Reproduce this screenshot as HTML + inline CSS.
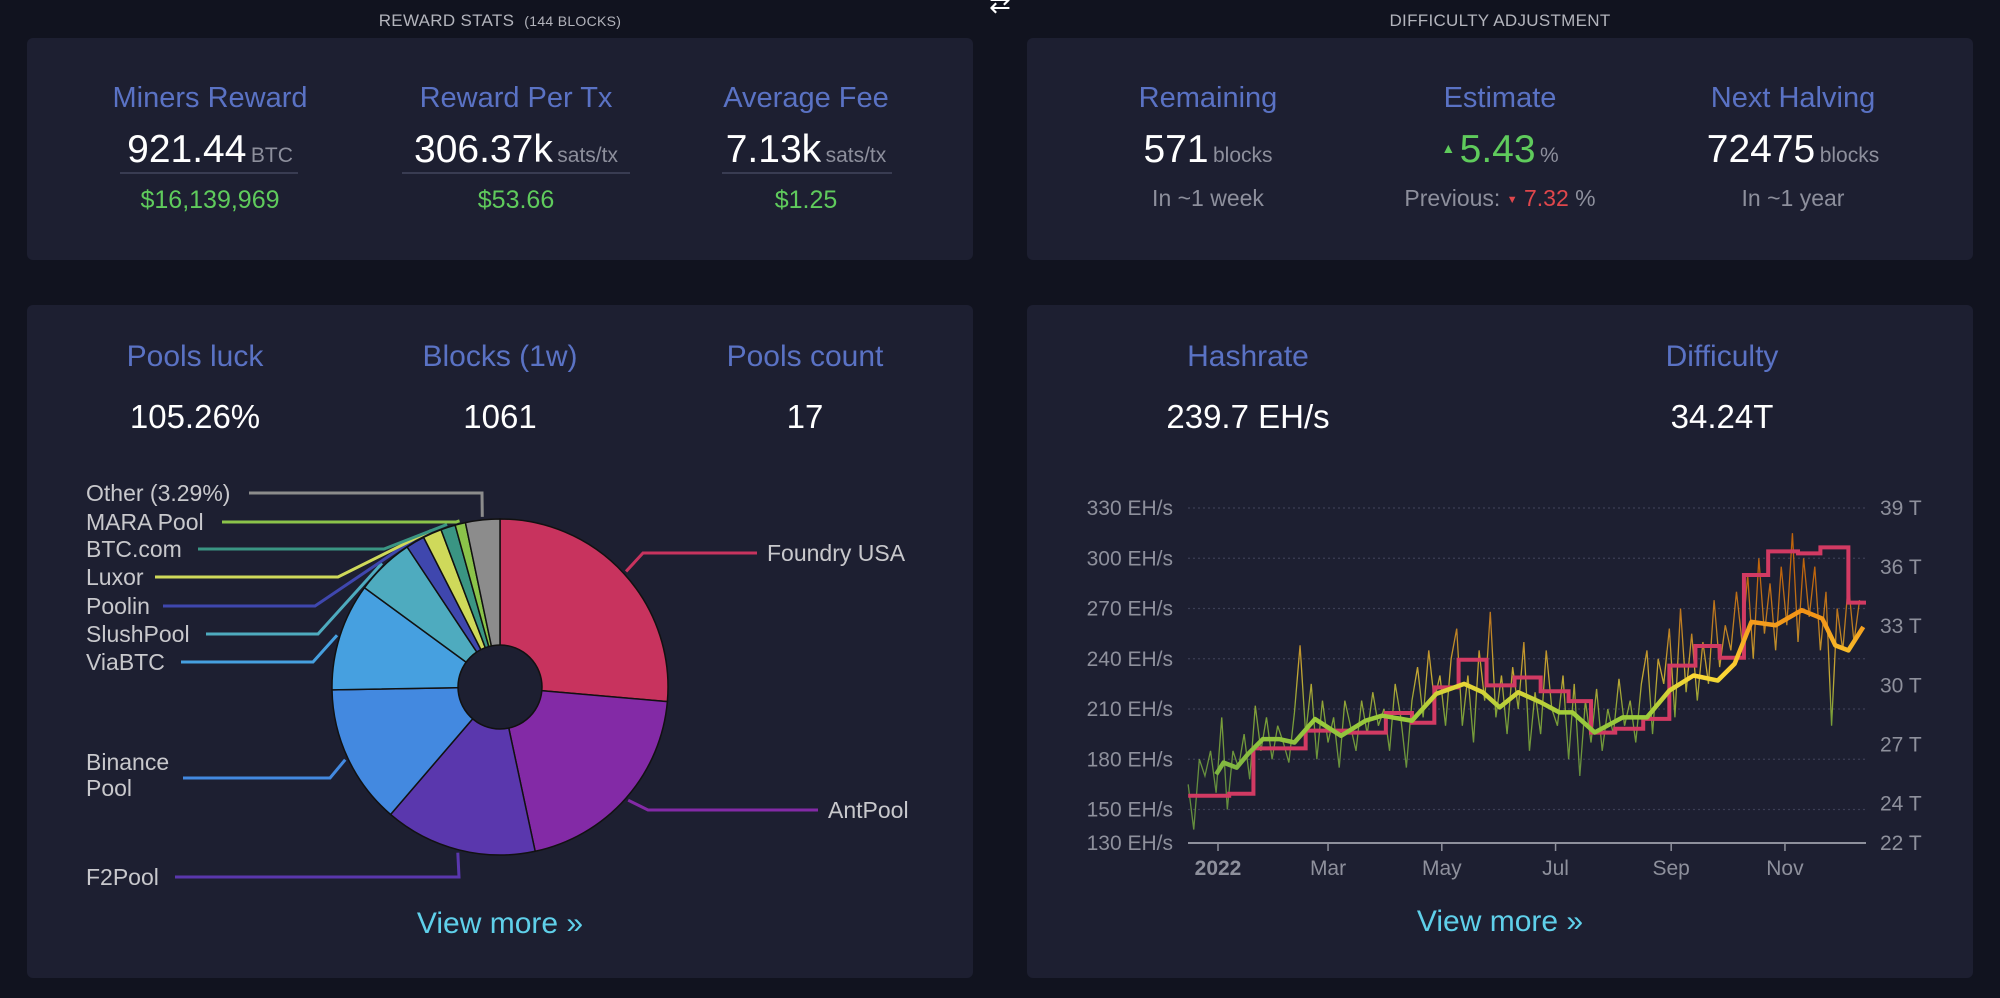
<!DOCTYPE html>
<html><head><meta charset="utf-8">
<style>
html,body{margin:0;padding:0;}
body{width:2000px;height:998px;background:#11131f;position:relative;overflow:hidden;font-family:"Liberation Sans",sans-serif;}
.card{position:absolute;background:#1d1f31;border-radius:6px;}
.t{position:absolute;white-space:nowrap;transform:translateX(-50%);text-align:center;}
.hdr{font-size:17px;color:#b3b4bc;letter-spacing:0.3px;}
.lbl{font-size:29px;color:#5a72c4;}
.lbl2{font-size:30px;color:#5a72c4;}
.val{font-size:39px;color:#fff;}
.unit{font-size:21px;color:#8d8f9c;}
.usd{font-size:25px;color:#5fcb5c;}
.sub{font-size:23px;color:#8d8f9c;}
.big{font-size:33px;color:#fff;}
.line{position:absolute;height:2px;background:#393c52;}
.vm{font-size:30px;color:#5fd0ea;}
</style></head><body>
<div class="t hdr" style="left:500px;top:11px">REWARD STATS &nbsp;<span style="font-size:14px">(144 BLOCKS)</span></div>
<div class="t hdr" style="left:1500px;top:11px">DIFFICULTY ADJUSTMENT</div>
<div class="t" style="left:1000px;top:-12px;color:#fff;font-size:26px">⇄</div>

<div class="card" style="left:27px;top:38px;width:946px;height:222px"></div>
<div class="t lbl" style="left:210px;top:82px">Miners Reward</div>
<div class="t" style="left:210px;top:128px"><span class="val">921.44</span> <span class="unit">BTC</span></div>
<div class="line" style="left:120px;top:172px;width:178px"></div>
<div class="t usd" style="left:210px;top:186px">$16,139,969</div>
<div class="t lbl" style="left:516px;top:82px">Reward Per Tx</div>
<div class="t" style="left:516px;top:128px"><span class="val">306.37k</span> <span class="unit">sats/tx</span></div>
<div class="line" style="left:402px;top:172px;width:228px"></div>
<div class="t usd" style="left:516px;top:186px">$53.66</div>
<div class="t lbl" style="left:806px;top:82px">Average Fee</div>
<div class="t" style="left:806px;top:128px"><span class="val">7.13k</span> <span class="unit">sats/tx</span></div>
<div class="line" style="left:722px;top:172px;width:170px"></div>
<div class="t usd" style="left:806px;top:186px">$1.25</div>

<div class="card" style="left:1027px;top:38px;width:946px;height:222px"></div>
<div class="t lbl" style="left:1208px;top:82px">Remaining</div>
<div class="t" style="left:1208px;top:128px"><span class="val">571</span> <span class="unit">blocks</span></div>
<div class="t sub" style="left:1208px;top:185px">In ~1 week</div>
<div class="t lbl" style="left:1500px;top:82px">Estimate</div>
<div class="t" style="left:1500px;top:128px"><span style="color:#5fcb5c;font-size:14px;vertical-align:9px">▲</span> <span class="val" style="color:#5fcb5c">5.43</span> <span class="unit">%</span></div>
<div class="t sub" style="left:1500px;top:185px">Previous: <span style="color:#e0474c;font-size:11px;vertical-align:3px">▼</span> <span style="color:#e0474c">7.32</span> %</div>
<div class="t lbl" style="left:1793px;top:82px">Next Halving</div>
<div class="t" style="left:1793px;top:128px"><span class="val">72475</span> <span class="unit">blocks</span></div>
<div class="t sub" style="left:1793px;top:185px">In ~1 year</div>

<div class="card" style="left:27px;top:305px;width:946px;height:673px"></div>
<div class="t lbl2" style="left:195px;top:340px">Pools luck</div>
<div class="t big" style="left:195px;top:398px">105.26%</div>
<div class="t lbl2" style="left:500px;top:340px">Blocks (1w)</div>
<div class="t big" style="left:500px;top:398px">1061</div>
<div class="t lbl2" style="left:805px;top:340px">Pools count</div>
<div class="t big" style="left:805px;top:398px">17</div>
<div class="t vm" style="left:500px;top:907px">View more »</div>

<div class="card" style="left:1027px;top:305px;width:946px;height:673px"></div>
<div class="t lbl2" style="left:1248px;top:340px">Hashrate</div>
<div class="t big" style="left:1248px;top:398px">239.7 EH/s</div>
<div class="t lbl2" style="left:1722px;top:340px">Difficulty</div>
<div class="t big" style="left:1722px;top:398px">34.24T</div>
<div class="t vm" style="left:1500px;top:905px">View more »</div>

<svg id="pie" width="2000" height="998" style="position:absolute;left:0;top:0"></svg>
<svg id="hr" width="2000" height="998" style="position:absolute;left:0;top:0"></svg>

<script>
// ---------- Pie data ----------
const poolNames = ["Foundry USA","AntPool","F2Pool","Binance Pool","ViaBTC","SlushPool","Poolin","Luxor","BTC.com","MARA Pool","Other (3.29%)"];
const poolShares = [26.3,20.2,14.6,13.4,10.3,5.6,1.8,1.8,1.4,1.0,3.29];
const poolColors = ["#c8335e","#832aa6","#5a37ad","#4389e0","#46a0e0","#4eabbf","#3f47ae","#cfd95a","#3a9583","#8bc34a","#8c8c8c"];

const NS="http://www.w3.org/2000/svg";
function mk(parent,tag,attrs){const e=document.createElementNS(NS,tag);for(const k in attrs)e.setAttribute(k,attrs[k]);parent.appendChild(e);return e;}
const pie=document.getElementById('pie');
const cx=500,cy=687,R=168,r0=42;
const total=poolShares.reduce((a,b)=>a+b,0);
function pt(ang,rad){return [cx+rad*Math.sin(ang),cy-rad*Math.cos(ang)];}
let a0=0;
const mids=[];
poolShares.forEach((v,i)=>{
  const a1=a0+v/total*2*Math.PI;
  const [x0,y0]=pt(a0,R),[x1,y1]=pt(a1,R);
  const large=(a1-a0)>Math.PI?1:0;
  const p=mk(pie,'path',{d:`M${cx},${cy} L${x0},${y0} A${R},${R} 0 ${large} 1 ${x1},${y1} Z`,fill:poolColors[i],stroke:'#111',"stroke-width":1.5});
  
  
  mids.push((a0+a1)/2);
  a0=a1;
});
const hole=mk(pie,'circle',{cx:cx,cy:cy,r:r0,fill:'#1d1f31',stroke:'#111',"stroke-width":1.5});


// label layout: [labelX, labelY, lineStartX, bendX, anchor]
const labelPos=[[767,553,757,643,'start'],[828,810,818,648,'start'],[86,877,175,459,'end'],[86,778,183,330,'end'],[86,662,181,313,'end'],[86,634,206,318,'end'],[86,606,163,315,'end'],[86,577,155,338,'end'],[86,549,198,384,'end'],[86,522,222,456,'end'],[86,493,249,482,'end']];
poolNames.forEach((n,i)=>{
  const [lx,ly,sx,bx,anc]=labelPos[i];
  const [ex,ey]=pt(mids[i],R+3);
  const l=mk(pie,'polyline',{points:`${sx},${ly} ${bx},${ly} ${ex},${ey}`,fill:'none',stroke:poolColors[i],"stroke-width":3});
  
  
  if(n==="Binance Pool"){
    const t=mk(pie,'text',{x:lx,y:ly-8,fill:'#c8c8cc',"font-size":23,"font-family":"Liberation Sans, sans-serif"});
    t.textContent="Binance";
    const t2=mk(pie,'text',{x:lx,y:ly+18,fill:'#c8c8cc',"font-size":23,"font-family":"Liberation Sans, sans-serif"});
    t2.textContent="Pool";
    
    
    
    
  } else {
    const t=mk(pie,'text',{x:lx,y:ly+8,fill:'#c8c8cc',"font-size":23,"font-family":"Liberation Sans, sans-serif"});
    t.textContent=n;
    
    
  }
});

// ---------- Hashrate chart data ----------
const leftTicks=[130,150,180,210,240,270,300,330];
const rightTicks=[22,24,27,30,33,36,39];
const monthLabels=["2022","Mar","May","Jul","Sep","Nov"];
const monthDays=[0,59,120,181,243,304];
// each difficulty value starts at the matching day and lasts until the next one
const diffDays=[-16,6,19,47,70,90,104,116,129,144,159,173,188,200,213,228,242,256,269,282,295,311,323,338];
const diffVals=[24.4,24.5,26.8,27.7,27.6,28.6,28.1,29.9,31.3,30.0,30.4,29.7,29.2,27.6,27.8,28.3,31.0,32.0,31.4,35.6,36.8,36.7,37.0,34.2];
const maDays=[-1,3,10,16,24,33,41,52,66,79,88,104,117,132,142,151,161,173,183,190,202,217,230,242,255,268,277,286,299,313,324,331,338,346];
const maVals=[171,178,175,183,192,192,190,204,194,203,206,203,219,225,220,211,220,214,208,208,196,205,205,221,230,227,237,262,260,269,264,248,245,259];
const rawStart=-16, rawStep=3;
const rawVals=[165,138,180,170,185,160,205,150,185,175,195,168,212,185,205,180,200,190,178,208,248,195,225,180,215,190,205,175,215,200,185,215,195,220,200,210,185,225,205,175,215,235,205,245,215,230,200,240,258,200,230,190,245,215,268,205,230,195,235,210,250,185,220,195,245,210,200,230,180,225,170,215,190,222,185,210,195,228,200,215,190,225,245,195,240,225,258,205,270,220,255,215,250,225,275,235,260,245,280,250,290,240,300,255,285,245,295,260,315,250,300,265,295,245,280,200,270,245,285,250,275];

const hr=document.getElementById('hr');
const X0=1188,X1=1866;
const xDay=d=>1218+d*1.865;
const yL=v=>843-(v-130)*(335/200);
const yR=t=>843-(t-22)*(335/17);
const defs=mk(hr,'defs',{});
const g=mk(defs,'linearGradient',{id:'hg',gradientUnits:'userSpaceOnUse',x1:0,x2:0,y1:yL(170),y2:yL(290)});
[[0,'#7cb342'],[0.3,'#9ccc3b'],[0.5,'#fdd835'],[0.75,'#f39c1d'],[1,'#f57c00']].forEach(([o,c])=>mk(g,'stop',{offset:o,"stop-color":c}));
leftTicks.forEach(v=>{
  if(v!==130){const gl=mk(hr,'line',{x1:X0,x2:X1,y1:yL(v),y2:yL(v),stroke:'#3c3f55',"stroke-width":1.2,"stroke-dasharray":"2,3"});
  
  }
  const t=mk(hr,'text',{x:1173,y:yL(v)+7,fill:'#8e909c',"font-size":21,"text-anchor":'end',"font-family":"Liberation Sans, sans-serif"});
  t.textContent=v+" EH/s";
  
  
});
rightTicks.forEach(v=>{
  const t=mk(hr,'text',{x:1880,y:yR(v)+7,fill:'#8e909c',"font-size":21,"font-family":"Liberation Sans, sans-serif"});
  t.textContent=v+" T";
  
  
});
const ax=mk(hr,'line',{x1:X0,x2:X1,y1:843,y2:843,stroke:'#8e909c',"stroke-width":2});


monthLabels.forEach((m,i)=>{
  const x=xDay(monthDays[i]);
  const tk=mk(hr,'line',{x1:x,x2:x,y1:843,y2:851,stroke:'#8e909c',"stroke-width":1.5});
  
  
  const t=mk(hr,'text',{x:x,y:875,fill:'#8e909c',"font-size":21,"text-anchor":'middle',"font-weight":i===0?'bold':'normal',"font-family":"Liberation Sans, sans-serif"});
  t.textContent=m;
  
  
});
// raw daily hashrate
const rawPts=rawVals.map((v,i)=>`${xDay(rawStart+i*rawStep)},${yL(v)}`).join(' ');
const rl=mk(hr,'polyline',{points:rawPts,fill:'none',stroke:'url(#hg)',"stroke-width":1.3,opacity:0.75});


// difficulty step line
let dp=[];
diffVals.forEach((v,i)=>{
  const xa=xDay(diffDays[i]);
  const xb=i<diffVals.length-1?xDay(diffDays[i+1]):X1;
  dp.push(`${xa},${yR(v)}`,`${xb},${yR(v)}`);
});
const dl=mk(hr,'polyline',{points:dp.join(' '),fill:'none',stroke:'#d23a63',"stroke-width":4});


// moving average
const maPts=maVals.map((v,i)=>`${xDay(maDays[i])},${yL(v)}`).join(' ');
const ml=mk(hr,'polyline',{points:maPts,fill:'none',stroke:'url(#hg)',"stroke-width":4.5,"stroke-linejoin":'round'});


</script>
</body></html>
